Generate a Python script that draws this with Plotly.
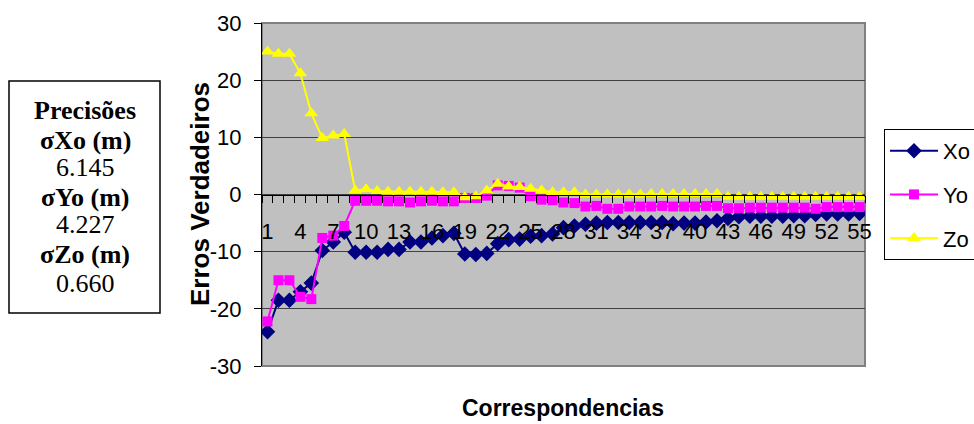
import plotly.graph_objects as go

# ---- data ----
correspondencias = list(range(1, 56))

xo = [-24.0, -18.5, -18.5, -17.0, -15.5, -9.8, -8.3, -6.6, -10.1, -10.1,
      -10.1, -9.6, -9.6, -8.3, -8.3, -7.6, -7.2, -6.8, -10.4, -10.5,
      -10.3, -8.6, -7.9, -7.8, -7.3, -7.2, -6.9, -5.8, -5.5, -5.2,
      -5.0, -4.9, -4.9, -4.9, -4.9, -4.9, -4.9, -5.1, -5.0, -5.0,
      -4.8, -4.6, -4.2, -3.9, -3.8, -3.8, -3.8, -3.8, -3.7, -3.7,
      -3.5, -3.4, -3.4, -3.4, -3.3]

yo = [-22.2, -15.0, -15.0, -17.9, -18.3, -7.6, -7.2, -5.5, -1.1, -1.1,
      -1.1, -1.2, -1.2, -1.4, -1.2, -1.1, -1.2, -1.2, -0.6, -0.6,
      -0.2, 1.6, 1.5, 1.2, -0.3, -0.9, -1.0, -1.4, -1.5, -2.1,
      -2.0, -2.5, -2.5, -2.1, -2.1, -2.1, -2.0, -2.1, -2.1, -2.1,
      -2.0, -2.0, -2.4, -2.4, -2.3, -2.3, -2.3, -2.3, -2.3, -2.3,
      -2.5, -2.2, -2.2, -2.2, -2.2]

zo = [25.0, 24.6, 24.6, 21.2, 14.2, 9.9, 10.3, 10.6, 0.7, 0.9,
      0.6, 0.5, 0.5, 0.5, 0.5, 0.5, 0.4, 0.4, -0.5, -0.3,
      0.7, 1.9, 1.4, 1.3, 1.0, 0.7, 0.4, 0.4, 0.4, 0.0,
      0.0, 0.0, 0.0, 0.0, 0.0, 0.1, 0.1, 0.1, 0.1, 0.1,
      0.1, 0.1, -0.4, -0.4, -0.4, -0.4, -0.4, -0.4, -0.4, -0.4,
      -0.4, -0.4, -0.4, -0.4, -0.4]

x_tick_labels = list(range(1, 56, 3))
y_ticks = [-30, -20, -10, 0, 10, 20, 30]

precision_lines = [("Precisões", True), ("σXo (m)", True), ("6.145", False),
                   ("σYo (m)", True), ("4.227", False), ("σZo (m)", True),
                   ("0.660", False)]

# ---- figure ----
W, H = 974, 424
ML, MR, MT, MB = 262, 109, 23, 58
PW, PH = W - ML - MR, H - MT - MB


def px_x(p):
    return (p - ML) / PW


def px_y(p):
    return (H - MB - p) / PH


fig = go.Figure()
fig.add_trace(go.Scatter(x=correspondencias, y=xo, name="Xo", mode="lines+markers",
                         line=dict(color="#000080", width=2), legendgroup="a",
                         marker=dict(symbol="diamond", size=12, color="#000080")))
fig.add_trace(go.Scatter(x=correspondencias, y=yo, name="Yo", mode="lines+markers",
                         line=dict(color="#FF00FF", width=2), legendgroup="b",
                         marker=dict(symbol="square", size=10, color="#FF00FF")))
fig.add_trace(go.Scatter(x=correspondencias, y=zo, name="Zo", mode="lines+markers",
                         line=dict(color="#FFFF00", width=2), legendgroup="c",
                         marker=dict(symbol="triangle-up", size=12, color="#FFFF00")))

annotations = []
line_y_px = [110, 140, 167, 197, 224, 255, 283]
for (txt, bold), py in zip(precision_lines, line_y_px):
    annotations.append(dict(
        text=f"<b>{txt}</b>" if bold else txt, xref="paper", yref="paper",
        x=px_x(85), y=px_y(py), xanchor="center", yanchor="middle", showarrow=False,
        font=dict(family="Liberation Serif, Times New Roman, serif", size=26, color="black")))

annotations.append(dict(text="<b>Correspondencias</b>", xref="paper", yref="paper",
                        x=px_x(563), y=px_y(408), xanchor="center", yanchor="middle",
                        showarrow=False,
                        font=dict(family="Liberation Sans, Arial, sans-serif", size=23, color="black")))
annotations.append(dict(text="<b>Erros Verdadeiros</b>", xref="paper", yref="paper",
                        x=px_x(200), y=px_y(194), xanchor="center", yanchor="middle",
                        textangle=-90, showarrow=False,
                        font=dict(family="Liberation Sans, Arial, sans-serif", size=26, color="black")))

shapes = [
    dict(type="rect", xref="paper", yref="paper", x0=px_x(9), x1=px_x(160),
         y0=px_y(313), y1=px_y(81), line=dict(color="black", width=1.5)),
    dict(type="rect", xref="paper", yref="paper", x0=0, x1=1, y0=0, y1=1,
         line=dict(color="#808080", width=2), layer="below"),
]

fig.update_layout(
    width=W, height=H,
    margin=dict(l=ML, r=MR, t=MT, b=MB, autoexpand=False),
    paper_bgcolor="white", plot_bgcolor="#C0C0C0",
    font=dict(family="Liberation Sans, Arial, sans-serif", size=22, color="black"),
    showlegend=True,
    legend=dict(x=px_x(884), y=px_y(129), xanchor="left", yanchor="top",
                bgcolor="white", bordercolor="black", borderwidth=1,
                font=dict(size=22), itemwidth=48, traceorder="grouped",
                tracegroupgap=12),
    annotations=annotations, shapes=shapes,
)

fig.update_xaxes(range=[0.5, 55.5], tickvals=x_tick_labels,
                 ticktext=[str(v) for v in x_tick_labels],
                 anchor="free", position=0.5, showline=True, linecolor="black",
                 linewidth=1, showgrid=False, zeroline=False, ticks="", ticklen=0,
                 ticklabelstandoff=17,
                 tickfont=dict(size=22),
                 minor=dict(ticks="outside", ticklen=7, tick0=0.5, dtick=1,
                            tickcolor="black", showgrid=False))
fig.update_yaxes(range=[-30, 30], tickvals=y_ticks,
                 ticktext=[str(v) for v in y_ticks],
                 showline=True, linecolor="black",
                 linewidth=1, ticks="outside", ticklen=7, tickcolor="black",
                 ticklabelstandoff=8,
                 showgrid=True, gridcolor="#404040", gridwidth=1, zeroline=False,
                 tickfont=dict(size=22))

fig.write_html("out.html", config={"displayModeBar": False},
               post_script="document.body.style.margin='0';"
                           "document.body.style.overflow='hidden';")
